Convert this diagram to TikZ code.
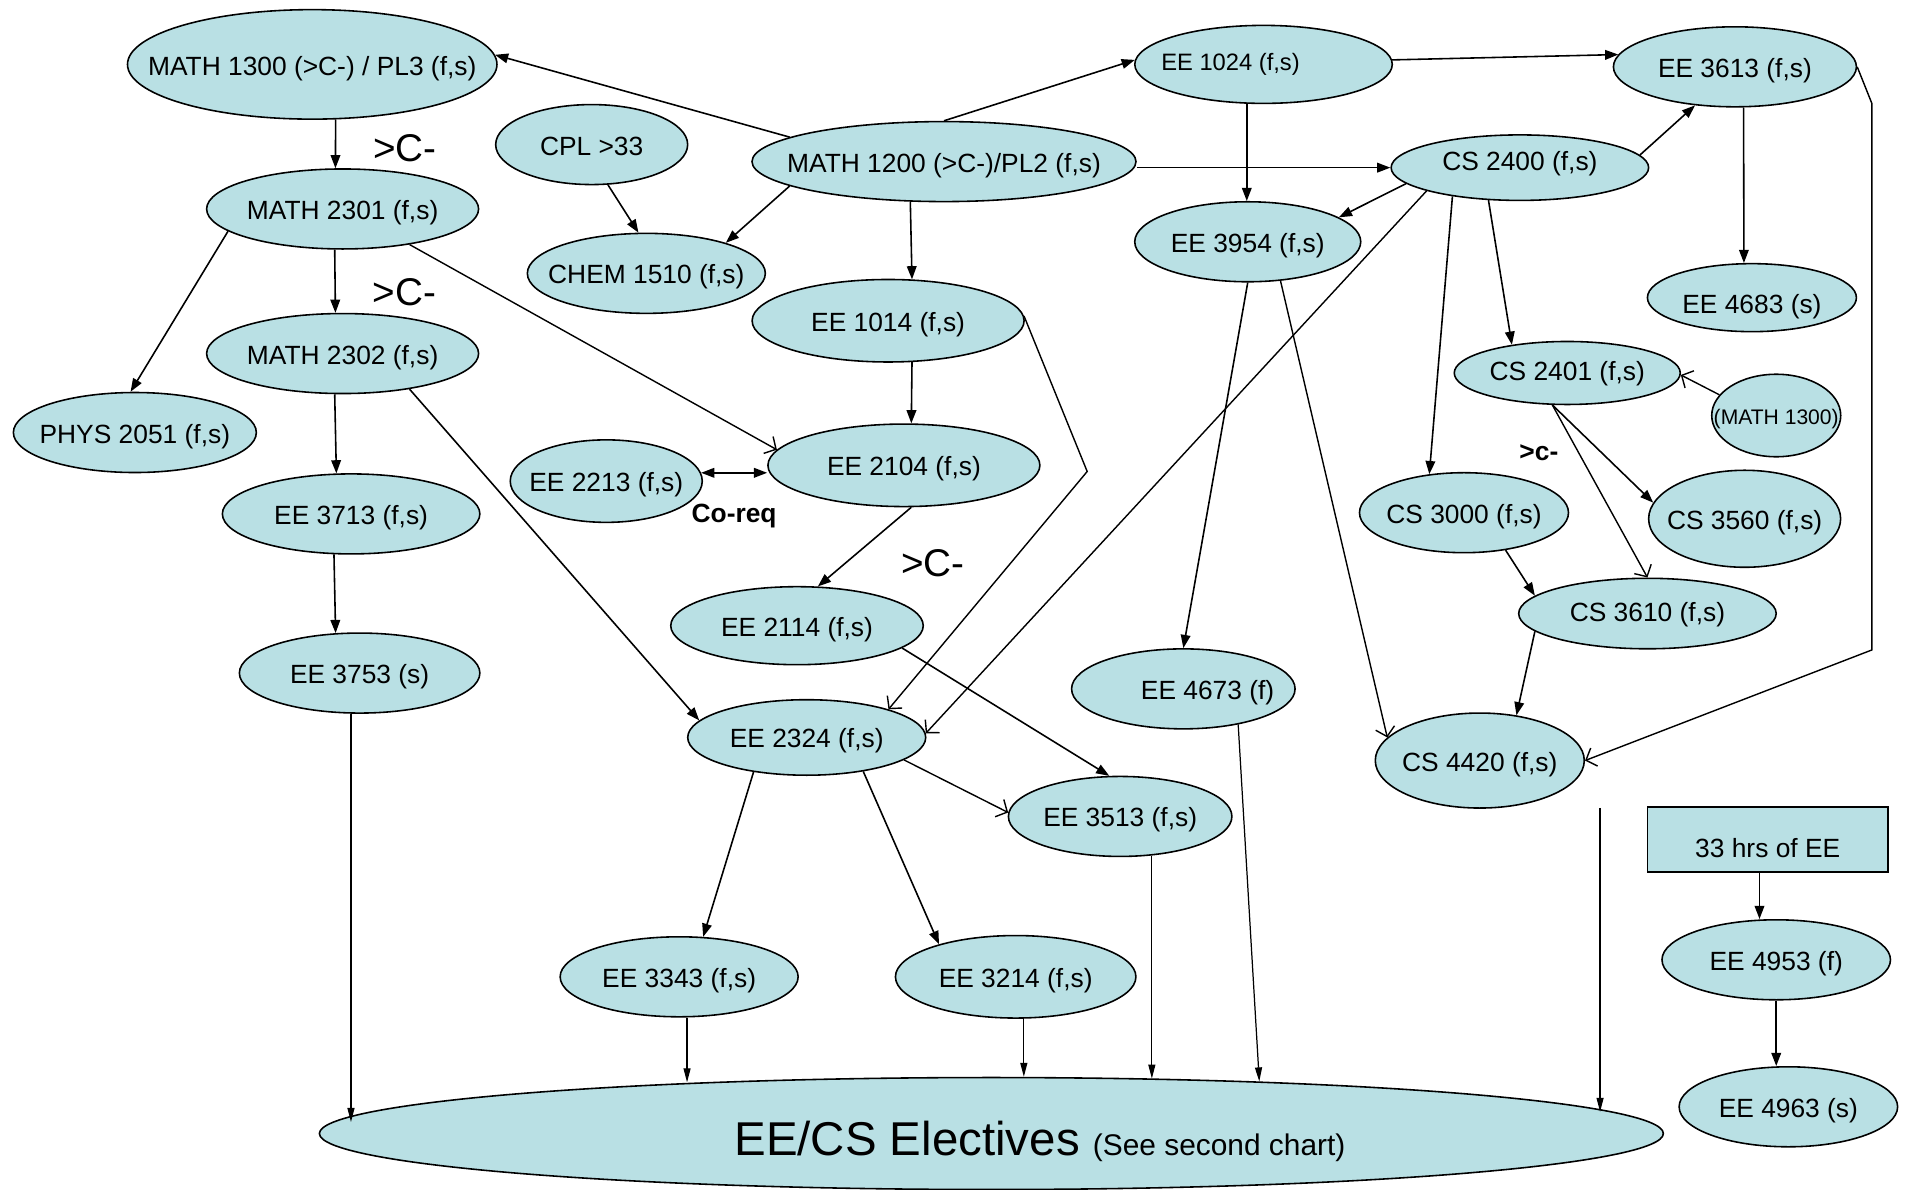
\documentclass[tikz,border=0pt]{standalone}
\usepackage{fontspec}
\setmainfont{Liberation Sans}
\usetikzlibrary{arrows.meta,shapes.geometric}
\definecolor{coursefill}{RGB}{185,224,228}
\newcommand{\inell}[2][2.1mm]{\makebox[0pt]{\raisebox{-#1}[0pt][0pt]{#2}}}

\begin{document}
\begin{tikzpicture}[x=0.243mm,y=-0.243mm,
  >={Triangle[length=7.5pt,width=5.5pt]},
  course/.style={ellipse,draw=black,line width=0.9pt,fill=coursefill,inner sep=0pt,font=\fontsize{15}{18}\selectfont},
  hrsbox/.style={rectangle,draw=black,line width=0.9pt,fill=coursefill,inner sep=0pt,font=\fontsize{15}{18}\selectfont},
  arr/.style={->,line width=0.9pt},
  darr/.style={<->,line width=0.9pt},
  oarr/.style={-{Straight Barb[length=5pt,width=11pt]},line width=0.8pt},
  earr/.style={-{Triangle[length=8pt,width=4pt]},line width=0.7pt},
  grade/.style={inner sep=0pt,font=\fontsize{22}{24}\selectfont},
  note/.style={inner sep=0pt,font=\fontsize{15}{18}\selectfont\bfseries}
]
\useasboundingbox (0,0) rectangle (1568,979);

% left column
\node[course,minimum width=73.9mm,minimum height=21.9mm] (m1300) at (257,53) {\inell[2.3mm]{MATH 1300 (>C-) / PL3 (f,s)}};
\node[course,minimum width=54.4mm,minimum height=16mm] (m2301) at (282,172) {\inell{MATH 2301 (f,s)}};
\node[course,minimum width=54.4mm,minimum height=16mm] (m2302) at (282,291) {\inell{MATH 2302 (f,s)}};
\node[course,minimum width=48.6mm,minimum height=16mm] (phys) at (111,356) {\inell{PHYS 2051 (f,s)}};
\node[course,minimum width=51.5mm,minimum height=16mm] (ee3713) at (289,423) {\inell{EE 3713 (f,s)}};
\node[course,minimum width=48.1mm,minimum height=16mm] (ee3753) at (296,554) {\inell{EE 3753 (s)}};

% middle
\node[course,minimum width=38.4mm,minimum height=16mm] (cpl) at (487,119) {\inell{CPL >33}};
\node[course,minimum width=76.8mm,minimum height=16mm] (m1200) at (777,133) {\inell{MATH 1200 (>C-)/PL2 (f,s)}};
\node[course,minimum width=47.6mm,minimum height=16mm] (chem) at (532,225) {\inell{CHEM 1510 (f,s)}};
\node[course,minimum width=54.4mm,minimum height=16.5mm] (ee1014) at (731,264) {\inell{EE 1014 (f,s)}};
\node[course,minimum width=54.4mm,minimum height=16.5mm] (ee2104) at (744,383) {\inell{EE 2104 (f,s)}};
\node[course,minimum width=38.4mm,minimum height=16.5mm] (ee2213) at (499,396) {\inell{EE 2213 (f,s)}};
\node[course,minimum width=50.5mm,minimum height=15.6mm] (ee2114) at (656,515) {\inell{EE 2114 (f,s)}};
\node[course,minimum width=47.6mm,minimum height=15.1mm] (ee2324) at (664,607) {\inell{EE 2324 (f,s)}};
\node[course,minimum width=44.7mm,minimum height=16mm] (ee3513) at (922,672) {\inell{EE 3513 (f,s)}};
\node[course,minimum width=47.6mm,minimum height=16mm] (ee3343) at (559,804) {\inell{EE 3343 (f,s)}};
\node[course,minimum width=48.1mm,minimum height=16.5mm] (ee3214) at (836,804) {\inell{EE 3214 (f,s)}};
\node[course,minimum width=44.7mm,minimum height=16mm] (ee4673) at (974,567) {\inell{\hspace*{9.7mm}EE 4673 (f)}};

% right
\node[course,minimum width=51.5mm,minimum height=15.6mm] (ee1024) at (1040,53) {\inell[1.2mm]{\fontsize{13.5}{16}\selectfont EE 1024 (f,s)\hspace*{13.2mm}}};
\node[course,minimum width=48.6mm,minimum height=16mm] (ee3613) at (1428,55) {\inell{EE 3613 (f,s)}};
\node[course,minimum width=51.5mm,minimum height=13.1mm] (cs2400) at (1251,138) {\inell[0.6mm]{CS 2400 (f,s)}};
\node[course,minimum width=45.2mm,minimum height=16mm] (ee3954) at (1027,199) {\inell{EE 3954 (f,s)}};
\node[course,minimum width=41.8mm,minimum height=13.6mm] (ee4683) at (1442,245) {\inell[3.2mm]{EE 4683 (s)}};
\node[course,minimum width=45.2mm,minimum height=12.6mm] (cs2401) at (1290,307) {\inell[1.5mm]{CS 2401 (f,s)}};
\node[course,minimum width=25.8mm,minimum height=16.5mm,font=\fontsize{12}{14}\selectfont] (m1300s) at (1462,342) {\inell[1.7mm]{(MATH 1300)}};
\node[course,minimum width=41.8mm,minimum height=16mm] (cs3000) at (1205,422) {\inell{CS 3000 (f,s)}};
\node[course,minimum width=38.4mm,minimum height=19.4mm] (cs3560) at (1436,427) {\inell{CS 3560 (f,s)}};
\node[course,minimum width=51.5mm,minimum height=14.1mm] (cs3610) at (1356,505) {\inell[1.5mm]{CS 3610 (f,s)}};
\node[course,minimum width=41.8mm,minimum height=19mm] (cs4420) at (1218,626) {\inell{CS 4420 (f,s)}};
\node[hrsbox,minimum width=48.1mm,minimum height=12.9mm] (hrs) at (1455,691) {\inell[3.5mm]{33 hrs of EE}};
\node[course,minimum width=45.7mm,minimum height=16mm] (ee4953) at (1462,790) {\inell{EE 4953 (f)}};
\node[course,minimum width=43.7mm,minimum height=16mm] (ee4963) at (1472,911) {\inell{EE 4963 (s)}};

% electives
\node[course,minimum width=268.8mm,minimum height=22.4mm,font=\fontsize{27}{30}\selectfont] (elect) at (816,933) {\inell[4.4mm]{\hspace*{19.4mm}EE/CS Electives {\fontsize{17}{20}\selectfont (See second chart)}}};
\coordinate (free) at (1317,665);

% prerequisites
\draw[arr] (m1200.171) -- (m1300.3);
\draw[arr] (m1200.90) -- (ee1024.178);
\draw[arr] (cs2400.west -| m1200.east) -- (cs2400.west);
\draw[arr] (m1200.189) -- (chem.21.6);
\draw[arr] (m1200.230) -- (ee1014.60.8);
\draw[arr] (cpl.-68.5) -- (chem.101.3);
\draw[arr] (m1300.-67) -- node[grade,xshift=13.9mm,yshift=-0.9mm]{>C-} (m2301.100.3);
\draw[arr] (m2301.259.7) -- node[grade,xshift=13.9mm,yshift=-2.1mm]{>C-} (m2302.100.3);
\draw[arr] (m2301.191) -- (phys.96.7);
\draw[oarr] (m2301.-28.8) -- (ee2104.173.5);
\draw[arr] (m2302.259.4) -- (ee3713.110.4);
\draw[arr] (m2302.-28) -- (ee2324.171.5);
\draw[arr] (ee3713.247.9) -- (ee3753.121.2);
\draw[earr] (ee3753.258) -- (elect.179 -| ee3753.258);

\draw[arr] (ee1014.-60.8) -- (ee2104.80.3);
\draw[oarr] (ee1014.2) -- ++(52,128) -- (ee2324.19.4);
\draw[darr] (ee2213.5.6) -- node[note,yshift=-8.7mm]{Co-req} (ee2213.5.6 -| ee2104.west);
\draw[arr] (ee2104.280) -- node[grade,xshift=13.7mm,yshift=-3.3mm]{>C-} (ee2114.62.7);
\draw[arr] (ee2114.-12.4) -- (ee3513.105.7);
\draw[oarr] (ee2324.-13.1) -- (ee3513.178.8);
\draw[arr] (ee2324.213.4) -- (ee3343.59);
\draw[arr] (ee2324.-31.8) -- (ee3214.157.4);
\draw[earr] (ee3343.281.6) -- (elect.170.7 -| ee3343.281.6);
\draw[earr] (ee3214.281.6) -- (elect.59.6 -| ee3214.281.6);
\draw[earr] (ee3513.-51.8) -- (elect.18.7 -| ee3513.-51.8);
\draw[earr] (ee4673.-33) -- (elect.11.25);

\draw[arr] (ee1024.2.7) -- (ee3613.174.9);
\draw[arr] (ee1024.247.9) -- (ee3954.north -| ee1024.247.9);
\draw[arr] (cs2400.188) -- (ee3954.15.9);
\draw[oarr] (cs2400.194) -- (ee2324.2);
\draw[arr] (cs2400.203) -- (cs3000.132.4);
\draw[arr] (cs2400.226) -- (cs2401.153.9);
\draw[arr] (cs2400.6.8) -- (ee3613.224);
\draw[arr] (ee3613.282) -- (ee4683.103.6);
\draw[oarr] (ee3613.east) -- ++(12,30) -- ++(0,450) -- (cs4420.east);
\draw[arr] (ee3954.south) -- (ee4673.north);
\draw[oarr] (ee3954.310.5) -- (cs4420.166.1);
\draw[oarr] (m1300s.160) -- (cs2401.-1.8);
\draw[arr] (cs2401.245) -- (cs3560.170);
\draw[oarr] (cs2401.245) -- node[note,xshift=-12.2mm,yshift=7.7mm]{>c-} (cs3610.north);
\draw[arr] (cs3000.-42.7) -- (cs3610.171.3);
\draw[arr] (cs3610.189.2) -- (cs4420.51);
\draw[earr] (free) -- (elect.2.23 -| free);
\draw[arr] (hrs.-104) -- (ee4953.north -| hrs.-104);
\draw[arr] (ee4953.south) -- (ee4963.north -| ee4953.south);
\end{tikzpicture}
\end{document}
